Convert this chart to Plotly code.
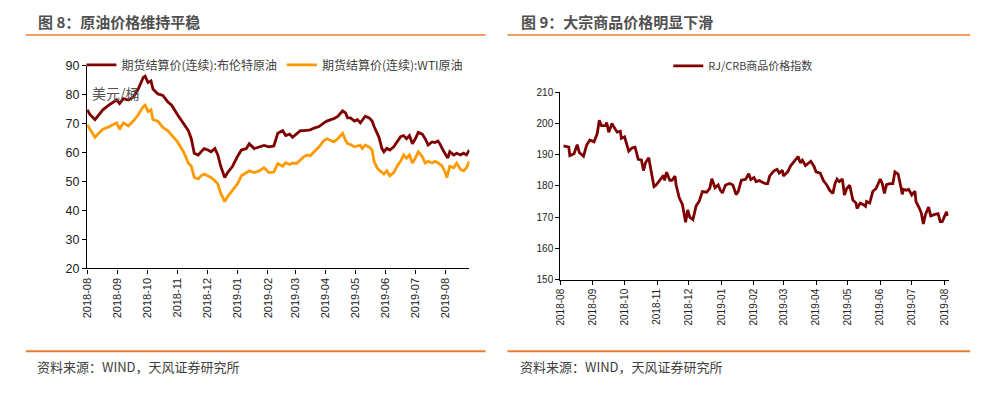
import plotly.graph_objects as go

# ---------------- data: Figure 8 (oil) ----------------
oil_dates = [
    "2018-08-01", "2018-08-04", "2018-08-09", "2018-08-12", "2018-08-17", "2018-08-23", "2018-08-28", "2018-08-31",
    "2018-09-03", "2018-09-07", "2018-09-12", "2018-09-17", "2018-09-22", "2018-09-27", "2018-09-29",
    "2018-10-02", "2018-10-05", "2018-10-07", "2018-10-12", "2018-10-17", "2018-10-22", "2018-10-26",
    "2018-11-01", "2018-11-07", "2018-11-12", "2018-11-15", "2018-11-18", "2018-11-22", "2018-11-25", "2018-11-28",
    "2018-12-02", "2018-12-05", "2018-12-09", "2018-12-12", "2018-12-15", "2018-12-19", "2018-12-22", "2018-12-27",
    "2019-01-01", "2019-01-05", "2019-01-10", "2019-01-13", "2019-01-18", "2019-01-23", "2019-01-28",
    "2019-02-02", "2019-02-07", "2019-02-11", "2019-02-16", "2019-02-19", "2019-02-23", "2019-02-26",
    "2019-03-02", "2019-03-06", "2019-03-10", "2019-03-13", "2019-03-16", "2019-03-20", "2019-03-25", "2019-03-30",
    "2019-04-02", "2019-04-06", "2019-04-09", "2019-04-13", "2019-04-16", "2019-04-18", "2019-04-21", "2019-04-23",
    "2019-04-26", "2019-04-30",
    "2019-05-03", "2019-05-06", "2019-05-08", "2019-05-11", "2019-05-15", "2019-05-18", "2019-05-20", "2019-05-23",
    "2019-05-25", "2019-05-28", "2019-05-30",
    "2019-06-02", "2019-06-05", "2019-06-09", "2019-06-12", "2019-06-14", "2019-06-16", "2019-06-19", "2019-06-22",
    "2019-06-25", "2019-06-28",
    "2019-07-01", "2019-07-04", "2019-07-08", "2019-07-11", "2019-07-14", "2019-07-18", "2019-07-21", "2019-07-24",
    "2019-07-26", "2019-07-28", "2019-07-29", "2019-07-31",
    "2019-08-02", "2019-08-03", "2019-08-05", "2019-08-09", "2019-08-12", "2019-08-16", "2019-08-19", "2019-08-22",
    "2019-08-25",
]
brent = [
    74.8, 73.1, 71.4, 72.6, 74.8, 76.4, 77.6, 78.2,
    77.0, 78.7, 78.2, 79.2, 82.0, 85.9, 86.4,
    84.2, 84.8, 82.0, 80.3, 79.8, 77.6, 76.4,
    73.1, 70.3, 67.6, 64.8, 59.8, 59.2, 60.3, 61.4,
    60.9, 60.3, 61.4, 59.2, 55.3, 51.4, 53.1, 55.3,
    58.7, 60.9, 61.4, 63.1, 61.4, 62.0, 62.5,
    62.0, 62.3, 66.7, 67.6, 65.9, 66.4, 65.3,
    66.4, 67.6, 67.6, 67.8, 67.9, 68.5, 69.0, 70.3,
    70.9, 71.4, 71.7, 72.5, 73.5, 74.4, 73.7, 72.0,
    72.0, 70.9,
    71.4, 70.3, 71.2, 72.6, 72.0, 70.9, 69.0, 66.5,
    65.3, 61.4, 60.3,
    61.5, 60.9, 62.0, 63.5, 64.8, 65.5, 65.9, 64.8,
    65.9, 63.1,
    64.8, 67.0, 66.4, 64.8, 62.6, 63.7, 63.5, 64.0,
    63.0, 61.4, 61.0, 59.8,
    58.5, 58.1, 60.3, 59.2, 59.8, 59.2, 59.8, 59.2,
    60.9,
]
wti = [
    69.6, 68.1, 65.3, 66.4, 68.1, 68.9, 69.8, 70.3,
    68.1, 70.3, 69.2, 70.9, 73.1, 75.9, 76.4,
    74.2, 74.8, 71.4, 70.9, 68.7, 67.6, 65.9,
    63.7, 60.3, 56.4, 55.3, 51.4, 50.9, 52.0, 52.6,
    52.0, 51.4, 50.3, 49.2, 45.9, 43.1, 44.8, 47.0,
    49.2, 52.0, 53.1, 53.7, 53.1, 53.7, 54.8,
    53.1, 53.3, 56.2, 55.3, 56.5, 55.9, 56.4,
    56.2, 57.6, 58.7, 59.2, 58.9, 60.3, 62.0, 64.2,
    64.8, 64.2, 63.7, 64.8, 65.9, 66.7, 64.2, 63.1,
    62.8, 62.0,
    62.3, 62.6, 61.4, 62.6, 62.0, 60.9, 57.0, 54.8,
    54.0, 53.1, 52.6,
    53.7, 52.0, 53.1, 55.3, 56.2, 57.0, 59.2, 58.1,
    59.2, 56.4,
    58.1, 60.3, 58.7, 56.4, 57.0, 56.4, 57.0, 56.5,
    55.9, 55.5, 54.8, 53.5,
    51.4, 52.5, 55.3, 54.8, 56.4, 54.2, 53.7, 54.8,
    57.0,
]

# ---------------- data: Figure 9 (RJ/CRB) ----------------
crb_dates = [
    "2018-08-04", "2018-08-09", "2018-08-10", "2018-08-14", "2018-08-17", "2018-08-19", "2018-08-23", "2018-08-26",
    "2018-08-29", "2018-09-02", "2018-09-05", "2018-09-07", "2018-09-09", "2018-09-13", "2018-09-14", "2018-09-16",
    "2018-09-19", "2018-09-20", "2018-09-24", "2018-09-27", "2018-09-28",
    "2018-10-01", "2018-10-05", "2018-10-08", "2018-10-11", "2018-10-14", "2018-10-17", "2018-10-19", "2018-10-21",
    "2018-10-24", "2018-10-27", "2018-10-29", "2018-10-31",
    "2018-11-03", "2018-11-07", "2018-11-08", "2018-11-10", "2018-11-13", "2018-11-15", "2018-11-18", "2018-11-19",
    "2018-11-22", "2018-11-25", "2018-11-28", "2018-11-30",
    "2018-12-02", "2018-12-05", "2018-12-08", "2018-12-11", "2018-12-14", "2018-12-18", "2018-12-21", "2018-12-23",
    "2018-12-26", "2018-12-29", "2018-12-31",
    "2019-01-02", "2019-01-05", "2019-01-09", "2019-01-12", "2019-01-15", "2019-01-17", "2019-01-20", "2019-01-24",
    "2019-01-27", "2019-01-29",
    "2019-02-01", "2019-02-03", "2019-02-06", "2019-02-09", "2019-02-12", "2019-02-14", "2019-02-16", "2019-02-20",
    "2019-02-23", "2019-02-25", "2019-02-28",
    "2019-03-01", "2019-03-05", "2019-03-08", "2019-03-11", "2019-03-15", "2019-03-17", "2019-03-19", "2019-03-22",
    "2019-03-24", "2019-03-27", "2019-03-30",
    "2019-04-01", "2019-04-05", "2019-04-08", "2019-04-11", "2019-04-14", "2019-04-17", "2019-04-19", "2019-04-21",
    "2019-04-23", "2019-04-26", "2019-04-28", "2019-04-30",
    "2019-05-03", "2019-05-06", "2019-05-09", "2019-05-10", "2019-05-13", "2019-05-16", "2019-05-18", "2019-05-19",
    "2019-05-22", "2019-05-25", "2019-05-28",
    "2019-06-01", "2019-06-03", "2019-06-05", "2019-06-07", "2019-06-10", "2019-06-13", "2019-06-15", "2019-06-18",
    "2019-06-20", "2019-06-22", "2019-06-23", "2019-06-26", "2019-06-28",
    "2019-07-01", "2019-07-04", "2019-07-05", "2019-07-08", "2019-07-10", "2019-07-12", "2019-07-14", "2019-07-17",
    "2019-07-19", "2019-07-23", "2019-07-26", "2019-07-28", "2019-07-30",
    "2019-08-03", "2019-08-04",
]
crb = [
    192.8, 192.4, 189.7, 190.3, 193.2, 190.7, 189.5, 193.1,
    194.7, 194.1, 196.7, 201.0, 199.3, 199.3, 200.3, 197.2,
    200.0, 199.3, 197.2, 197.5, 195.2,
    195.7, 191.1, 192.1, 192.4, 188.5, 188.3, 184.9, 187.5,
    189.0, 183.4, 179.8, 180.3,
    181.8, 183.4, 181.8, 184.4, 181.8, 181.8, 183.1, 180.3,
    176.2, 174.1, 168.4, 172.3,
    170.0, 169.2, 173.6, 175.1, 178.2, 178.0, 179.2, 182.3,
    179.4, 180.3, 178.7,
    177.7, 180.3, 180.8, 180.3, 177.2, 178.2, 181.8, 182.1,
    183.9, 182.0,
    182.7, 181.4, 181.7, 181.2, 180.7, 180.7, 183.2, 184.8,
    185.3, 184.1, 185.0,
    183.2, 184.5, 186.5, 187.9, 189.4, 187.4, 188.2, 186.5,
    187.2, 187.9, 186.3,
    184.5, 184.1, 181.7, 180.4, 178.6, 177.6, 180.7, 182.2,
    181.4, 182.2, 177.1, 179.1,
    180.2, 175.5, 174.5, 172.8, 174.5, 174.0, 173.5, 175.0,
    174.5, 178.3, 179.1,
    182.2, 180.7, 177.6, 180.4, 180.7, 180.7, 184.5, 183.8,
    180.7, 177.3, 178.9, 178.6, 178.9,
    177.1, 178.3, 175.0, 173.0, 171.4, 167.8, 170.9, 173.2,
    170.4, 170.9, 171.1, 168.6, 168.6,
    171.7, 170.4,
]

oil_ticks = [20, 30, 40, 50, 60, 70, 80, 90]
crb_ticks = [150, 160, 170, 180, 190, 200, 210]

# ---------------- styling ----------------
W, H = 993, 394
DARK_RED = "#7F0000"
ORANGE = "#FF9900"
RULE = "#EC7C30"
TXT = "#404040"
CJK = "Noto Sans CJK SC"
LAT = "Liberation Sans, Noto Sans CJK SC"


def px(x):
    return x / W


def py(y):
    return 1 - y / H


fig = go.Figure()
fig.add_trace(go.Scatter(x=oil_dates, y=brent, mode="lines", name="期货结算价(连续):布伦特原油",
                         line=dict(color=DARK_RED, width=2.8), xaxis="x", yaxis="y", legend="legend"))
fig.add_trace(go.Scatter(x=oil_dates, y=wti, mode="lines", name="期货结算价(连续):WTI原油",
                         line=dict(color=ORANGE, width=2.8), xaxis="x", yaxis="y", legend="legend"))
fig.add_trace(go.Scatter(x=crb_dates, y=crb, mode="lines", name="RJ/CRB商品价格指数",
                         line=dict(color=DARK_RED, width=2.8), xaxis="x2", yaxis="y2", legend="legend2"))

axis_common = dict(showgrid=False, zeroline=False, showline=True, linecolor="black", linewidth=1.3,
                   ticks="outside", tickcolor="black", ticklen=4, tickwidth=1)

fig.update_layout(
    width=W, height=H, margin=dict(l=0, r=0, t=0, b=0),
    paper_bgcolor="white", plot_bgcolor="white",
    font=dict(family=LAT, color=TXT),
    xaxis=dict(domain=[px(81.7), px(466.7)], anchor="y", type="date",
               range=["2018-08-01", "2019-08-25"], tick0="2018-08-01", dtick="M1",
               tickformat="%Y-%m", tickangle=-90, tickfont=dict(size=11, color="#222"), **axis_common),
    yaxis=dict(domain=[py(271), py(61)], anchor="x", range=[20, 90], tickvals=oil_ticks,
               tickfont=dict(size=12.5, color="#222"), **axis_common),
    xaxis2=dict(domain=[px(558.3), px(949.3)], anchor="y2", type="date",
                range=["2018-08-01", "2019-08-05"], tick0="2018-08-01", dtick="M1",
                tickformat="%Y-%m", tickangle=-90, tickfont=dict(size=10, color="#222"), **axis_common),
    yaxis2=dict(domain=[py(282.7), py(88.3)], anchor="x2", range=[150, 210], tickvals=crb_ticks,
                tickfont=dict(size=10, color="#222"), **axis_common),
    legend=dict(orientation="h", x=px(76), xanchor="left", y=py(45), yanchor="top",
                font=dict(family=CJK, size=12, color=TXT), bgcolor="rgba(0,0,0,0)",
                itemwidth=30, traceorder="normal"),
    legend2=dict(orientation="h", x=px(667), xanchor="left", y=py(46), yanchor="top",
                 font=dict(family=CJK, size=11, color=TXT), bgcolor="rgba(0,0,0,0)", itemwidth=30),
    showlegend=True,
)

# titles, rules, footers
for x0, x1, title, tx in [(20, 483, "图 8：原油价格维持平稳", 30), (505, 971, "图 9：大宗商品价格明显下滑", 517)]:
    fig.add_shape(type="line", xref="paper", yref="paper", x0=px(x0), x1=px(x1), y0=py(29), y1=py(29),
                  line=dict(color=RULE, width=1.5))
    fig.add_shape(type="line", xref="paper", yref="paper", x0=px(x0), x1=px(x1), y0=py(357), y1=py(357),
                  line=dict(color=RULE, width=2))
    fig.add_annotation(xref="paper", yref="paper", x=px(tx), y=py(15), xanchor="left", yanchor="middle",
                       text=title, showarrow=False,
                       font=dict(family=CJK, size=15, color="#505050", weight="bold"))
    fig.add_annotation(xref="paper", yref="paper", x=px(tx - 1), y=py(373), xanchor="left", yanchor="middle",
                       text="资料来源：WIND，天风证券研究所", showarrow=False,
                       font=dict(family=CJK, size=13, color=TXT))

fig.add_annotation(xref="paper", yref="paper", x=px(85), y=py(89), xanchor="left", yanchor="middle",
                   text="美元/桶", showarrow=False, font=dict(family=CJK, size=14, color="#555"))

fig.write_html("out.html", config={"displayModeBar": False},
               post_script="document.body.style.margin='0px';document.body.style.overflow='hidden';")
